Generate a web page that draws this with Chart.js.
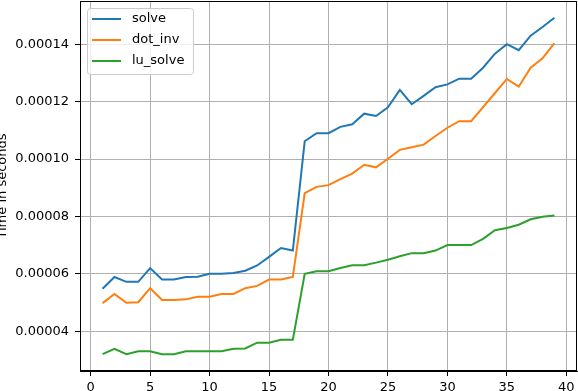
<!DOCTYPE html>
<html>
<head>
<meta charset="utf-8">
<script src="https://cdn.jsdelivr.net/npm/chart.js@4/dist/chart.umd.min.js"></script>
<style>
  html, body { margin: 0; padding: 0; background: #fff; }
  canvas { display: block; }
</style>
</head>
<body>
<canvas id="timing" width="578" height="391"></canvas>
<script>
// ---------- Data (values in seconds) ----------
const sizes = [1, 2, 3, 4, 5, 6, 7, 8, 9, 10, 11, 12, 13, 14, 15, 16, 17, 18, 19, 20,
               21, 22, 23, 24, 25, 26, 27, 28, 29, 30, 31, 32, 33, 34, 35, 36, 37, 38, 39];

const solveTimes = [5.48, 5.89, 5.72, 5.72, 6.2, 5.8, 5.8, 5.89, 5.9, 6.0,
                    6.0, 6.03, 6.11, 6.29, 6.59, 6.9, 6.81, 10.62, 10.9, 10.9,
                    11.12, 11.21, 11.58, 11.5, 11.8, 12.41, 11.91, 12.2, 12.5, 12.6,
                    12.8, 12.8, 13.18, 13.67, 14.0, 13.79, 14.3, 14.6, 14.92].map((v) => v * 1e-5);

const dotInvTimes = [4.98, 5.3, 4.99, 5.01, 5.5, 5.09, 5.09, 5.11, 5.2, 5.2,
                     5.3, 5.3, 5.5, 5.58, 5.8, 5.8, 5.89, 8.81, 9.03, 9.09,
                     9.3, 9.49, 9.8, 9.71, 10.01, 10.32, 10.41, 10.5, 10.8, 11.09,
                     11.32, 11.32, 11.81, 12.3, 12.79, 12.52, 13.18, 13.51, 14.04].map((v) => v * 1e-5);

const luSolveTimes = [3.2, 3.39, 3.2, 3.3, 3.3, 3.2, 3.2, 3.3, 3.3, 3.3,
                      3.3, 3.39, 3.4, 3.6, 3.6, 3.7, 3.7, 6.0, 6.09, 6.09,
                      6.2, 6.3, 6.3, 6.39, 6.49, 6.61, 6.72, 6.72, 6.81, 7.0,
                      7.0, 7.0, 7.22, 7.52, 7.6, 7.71, 7.9, 7.99, 8.03].map((v) => v * 1e-5);

const xTicks = [0, 5, 10, 15, 20, 25, 30, 35, 40];
const yTicks = [0.00004, 0.00006, 0.00008, 0.00010, 0.00012, 0.00014];
const yTitle = 'Time in seconds';

// ---------- Helpers ----------
const FONT = { family: 'DejaVu Sans', size: 13 };
const GRID = '#b0b0b0';

// matplotlib-style 5% margins around the data
function paddedRange(values) {
  const lo = Math.min(...values), hi = Math.max(...values);
  const m = (hi - lo) * 0.05;
  return [lo - m, hi + m];
}
const [xMin, xMax] = paddedRange(sizes);
const [yMin, yMax] = paddedRange([...solveTimes, ...dotInvTimes, ...luSolveTimes]);

const series = (ys) => sizes.map((x, i) => ({ x, y: ys[i] }));

// Frame, y title and legend box drawn by hand to look like matplotlib
const decorations = {
  id: 'decorations',
  afterDraw(chart) {
    const { ctx, chartArea: a } = chart;
    ctx.save();

    // frame on all four sides
    ctx.strokeStyle = '#000';
    ctx.lineWidth = 1;
    ctx.strokeRect(a.left + 0.5, a.top + 0.5, a.right - a.left - 1, a.bottom - a.top - 1);

    // y axis title (clipped at the page edge, like the reference)
    ctx.save();
    ctx.translate(6, (a.top + a.bottom) / 2);
    ctx.rotate(-Math.PI / 2);
    ctx.font = `${FONT.size}px "${FONT.family}"`;
    ctx.fillStyle = '#000';
    ctx.textAlign = 'center';
    ctx.textBaseline = 'alphabetic';
    ctx.fillText(yTitle, 0, 0);
    ctx.restore();

    // legend
    const bx = a.left + 7.5, by = a.top + 7.5, bw = 106, bh = 66, r = 3;
    ctx.beginPath();
    ctx.roundRect(bx, by, bw, bh, r);
    ctx.fillStyle = 'rgba(255,255,255,0.8)';
    ctx.fill();
    ctx.strokeStyle = '#cccccc';
    ctx.lineWidth = 1;
    ctx.stroke();

    ctx.font = `${FONT.size}px "${FONT.family}"`;
    ctx.textAlign = 'left';
    ctx.textBaseline = 'middle';
    chart.data.datasets.forEach((ds, i) => {
      const y = a.top + 18 + i * 21;
      ctx.beginPath();
      ctx.moveTo(a.left + 12, y);
      ctx.lineTo(a.left + 41, y);
      ctx.strokeStyle = ds.borderColor;
      ctx.lineWidth = 2;
      ctx.stroke();
      ctx.fillStyle = '#000';
      ctx.fillText(ds.label, a.left + 52, y);
    });
    ctx.restore();
  },
};

function axisOptions(min, max, ticks, extra) {
  return {
    type: 'linear',
    min, max,
    afterBuildTicks: (s) => { s.ticks = ticks.map((v) => ({ value: v })); },
    grid: { color: GRID, lineWidth: 1, tickColor: '#000', tickLength: 5 },
    border: { display: true, color: '#000', width: 1 },
    ticks: { color: '#000', font: FONT, maxRotation: 0, autoSkip: false, ...extra },
  };
}

new Chart(document.getElementById('timing'), {
  type: 'line',
  data: {
    datasets: [
      { label: 'solve', data: series(solveTimes), borderColor: '#1f77b4' },
      { label: 'dot_inv', data: series(dotInvTimes), borderColor: '#ff7f0e' },
      { label: 'lu_solve', data: series(luSolveTimes), borderColor: '#2ca02c' },
    ],
  },
  options: {
    responsive: false,
    animation: false,
    layout: { padding: { top: 1, right: 1, left: 0, bottom: 0 } },
    elements: {
      line: { borderWidth: 2, tension: 0, fill: false },
      point: { radius: 0 },
    },
    plugins: { legend: { display: false }, tooltip: { enabled: false } },
    scales: {
      x: {
        ...axisOptions(xMin, xMax, xTicks, { padding: 4 }),
        afterFit: (s) => { s.height = 20; s.paddingLeft = 0; s.paddingRight = 0; },
      },
      y: {
        ...axisOptions(yMin, yMax, yTicks, { padding: 6, callback: (v) => v.toFixed(5) }),
        afterFit: (s) => { s.width = 80; s.paddingTop = 0; s.paddingBottom = 0; },
      },
    },
  },
  plugins: [decorations],
});
</script>
</body>
</html>
